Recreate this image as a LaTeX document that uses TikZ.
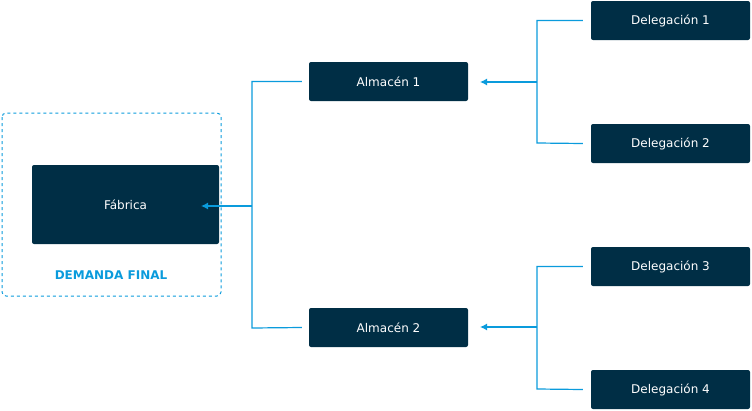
\documentclass[tikz,border=0pt]{standalone}
\usepackage{fontspec}
\setmainfont{DejaVu Sans}
\usetikzlibrary{arrows.meta}
\definecolor{navy}{HTML}{002E45}
\definecolor{blu}{HTML}{0A9BDC}
\begin{document}
\begin{tikzpicture}[x=1pt,y=-1pt,
 box/.style={fill=navy,rounded corners=2pt,text=white,font=\fontsize{12}{14}\selectfont,inner sep=0},
 ln/.style={draw=blu,line width=1.2pt},
 arr/.style={ln,-{Latex[length=7pt,width=7pt]}}]
\useasboundingbox (0,0) rectangle (752,410);
\draw[blu,dashed,line width=1pt,rounded corners=4pt] (2,113) rectangle (221,296);
\node[box,minimum width=187pt,minimum height=79pt] (f) at (125.5,204.5) {Fábrica};
\node[text=blu,font=\bfseries\fontsize{12}{14}\selectfont] (d) at (111,275) {DEMANDA FINAL};
\node[box,minimum width=159pt,minimum height=39pt] (a1) at (388.5,81.5) {Almacén 1};
\node[box,minimum width=159pt,minimum height=39pt] (a2) at (388.5,327.5) {Almacén 2};
\node[box,minimum width=159pt,minimum height=39pt] (d1) at (670.5,20.5) {Delegación 1};
\node[box,minimum width=159pt,minimum height=39pt] (d2) at (670.5,143.5) {Delegación 2};
\node[box,minimum width=159pt,minimum height=39pt] (d3) at (670.5,266.5) {Delegación 3};
\node[box,minimum width=159pt,minimum height=39pt] (d4) at (670.5,389.5) {Delegación 4};
\coordinate (j1) at (537,82);
\coordinate (j2) at (537,327);
\coordinate (j0) at (252,206);
\draw[ln] ([xshift=-8pt]d1.west) -| (537,143) -- ([xshift=-8pt]d2.west);
\draw[ln] ([xshift=-8pt]d3.west) -| (537,389) -- ([xshift=-8pt]d4.west);
\draw[ln] ([xshift=-7pt]a1.west) -| (252,328) -- ([xshift=-7pt]a2.west);
\draw[arr] (j1) -- (480,82);
\draw[arr] (j2) -- (480,327);
\draw[arr] (j0) -- (201,206);
\end{tikzpicture}
\end{document}
